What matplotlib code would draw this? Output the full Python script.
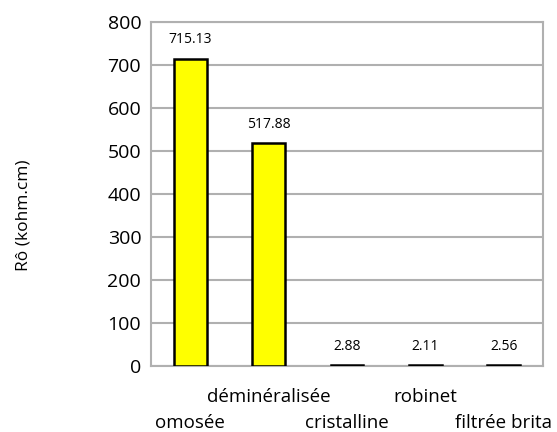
import matplotlib
matplotlib.use('Agg')
import matplotlib.pyplot as plt

plt.rcParams['font.family'] = ['Open Sans', 'DejaVu Sans']

# Données
categories = ['omosée', 'déminéralisée', 'cristalline', 'robinet', 'filtrée brita']
rho = [715.13, 517.88, 2.88, 2.11, 2.56]
etiquettes = ['715.13', '517.88', '2.88', '2.11', '2.56']
y_ticks = [0, 100, 200, 300, 400, 500, 600, 700, 800]

fig = plt.figure(figsize=(5.57, 4.32), dpi=100)
ax = fig.add_axes([0.271, 0.153, 0.704, 0.796])

x = list(range(len(categories)))
ax.bar(x, rho, width=0.42, color='#FFFF00', edgecolor='black', linewidth=1.8, zorder=3)

for xi, v, t in zip(x, rho, etiquettes):
    ax.annotate(t, (xi, v), xytext=(0, 8), textcoords='offset points',
                ha='center', va='bottom', fontsize=10)

ax.set_xlim(-0.5, len(categories) - 0.5)
ax.set_ylim(0, 800)
ax.set_yticks(y_ticks)
ax.set_yticklabels([str(t) for t in y_ticks], fontsize=14)
ax.grid(axis='y', color='#B0B0B0', linewidth=1.5, zorder=0)

# étiquettes en quinconce (comme Excel)
ax.set_xticks(x)
ax.set_xticklabels([])
ax.tick_params(axis='both', length=0)
ax.tick_params(axis='y', pad=7)
trans = ax.get_xaxis_transform()
for xi, c in zip(x, categories):
    yy = -0.166 if xi % 2 == 0 else -0.090
    ax.text(xi, yy, c, transform=trans, ha='center', va='center',
            fontsize=13.5, clip_on=False)

for s in ax.spines.values():
    s.set_color('#B0B0B0')
    s.set_linewidth(1.5)

fig.text(0.042, 0.502, 'Rô (kohm.cm)', rotation=90, fontsize=12.5,
         ha='center', va='center')

fig.savefig('out.png', dpi=100)
